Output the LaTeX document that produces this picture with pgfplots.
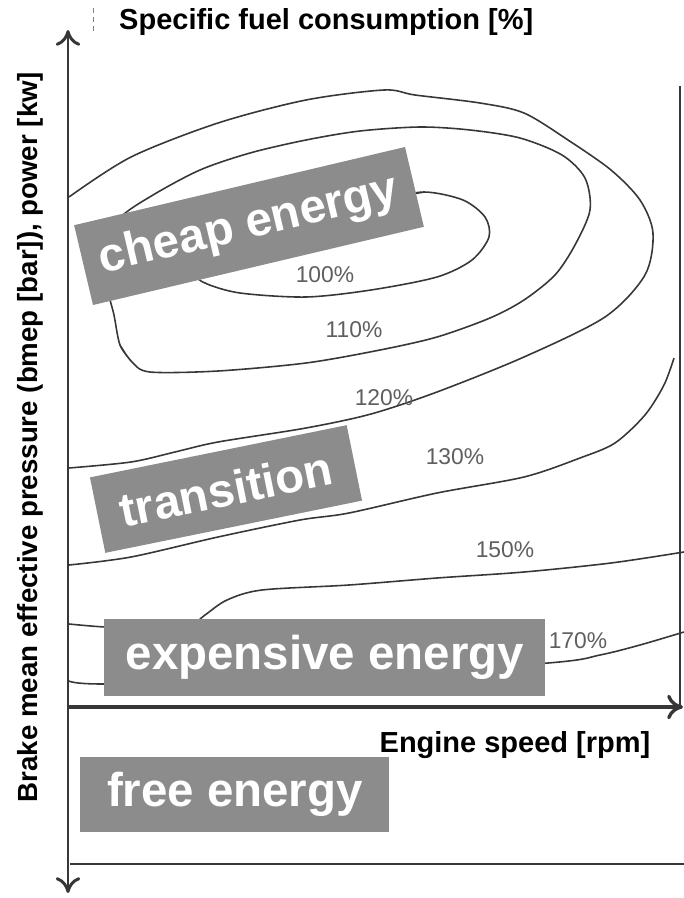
\documentclass[border=0pt]{standalone}
\usepackage{fontspec}
\setmainfont{Liberation Sans}
\usepackage{pgfplots}
\pgfplotsset{compat=1.18}
\usetikzlibrary{arrows.meta}
\definecolor{boxgray}{RGB}{140,140,140}
\definecolor{linegray}{RGB}{55,55,55}
\definecolor{labgray}{RGB}{95,95,95}
\pgfplotsset{iso/.style={no marks, smooth, line width=0.9pt, color=linegray}}
\begin{document}
\begin{tikzpicture}[
  box/.style={fill=boxgray, text=white, inner sep=0pt, anchor=center,
              font=\fontsize{27}{30}\selectfont\bfseries},
  pct/.style={text=labgray, font=\fontsize{13}{15}\selectfont}]
\begin{axis}[
  scale only axis, width=13.68cm, height=17.96cm,
  xmin=0, xmax=684, ymin=0, ymax=898, y dir=reverse,
  hide axis, clip=false]

% 120% (outer loop)
\addplot[iso] coordinates {
  (69,197) (131,157) (218,123) (306,100) (384,90) (415,95) (480,103)
  (524,113) (568,140) (611,170) (640,200) (653,233) (645,275) (605,317)
  (524,357) (437,392) (371,414) (306,428) (218,442) (175,452) (131,462) (69,468)};
% 110% loop
\addplot[iso] coordinates {
  (120,345) (132,362) (150,372) (218,371) (306,363) (380,350) (437,337)
  (490,318) (524,300) (555,275) (575,245) (590,210) (585,178) (562,155)
  (520,138) (470,130) (420,127) (360,131) (306,140) (250,153) (200,170)
  (153,195) (120,218) (105,250) (108,290) (114,315) (120,345) (132,362)};
% 100% loop
\addplot[iso] coordinates {
  (380,200) (424,192) (463,200) (485,217) (489,237) (472,260) (437,277)
  (371,290) (306,297) (240,293) (205,283) (199,273) (230,240) (300,215)
  (380,200) (424,192)};
% 130%
\addplot[iso] coordinates {
  (69,565) (131,557) (218,537) (300,520) (349,513) (437,493) (524,477)
  (580,458) (615,443) (645,415) (664,385) (674,358)};
% 150%
\addplot[iso] coordinates {
  (69,624) (105,627) (150,628) (190,625) (205,615) (227,600) (262,590)
  (349,585) (437,578) (524,572) (611,563) (684,552)};
% 170%
\addplot[iso] coordinates {
  (69,681) (105,684) (300,680) (548,663) (600,655) (640,645) (684,632)};

% frame and axes
\addplot[no marks, line width=1.1pt, color=linegray] coordinates {(680,86) (680,705)};
\addplot[no marks, line width=1.1pt, color=linegray] coordinates {(70,864) (684,864)};
\addplot[no marks, line width=1.7pt, color=linegray,
  {To[length=9pt,width=14pt]}-{To[length=9pt,width=14pt]}]
  coordinates {(68,893) (68,30)};
\addplot[no marks, line width=1.9pt, color=linegray, -{To[length=9pt,width=14pt]}]
  coordinates {(68,707) (683,707)};
\addplot[no marks, densely dashed, thin, gray] coordinates {(93,8) (93,32)};

% labels of the contours
\node[pct] at (axis cs:325,275) {100\%};
\node[pct] at (axis cs:354,330) {110\%};
\node[pct] at (axis cs:384,398) {120\%};
\node[pct] at (axis cs:455,457) {130\%};
\node[pct] at (axis cs:505,550) {150\%};
\node[pct] at (axis cs:578,641) {170\%};

% zones
\node[box, rotate=13.3, minimum width=6.8cm, minimum height=1.64cm]
  at (axis cs:249,226) {cheap energy};
\node[box, rotate=11.5, minimum width=5.24cm, minimum height=1.54cm]
  at (axis cs:226,489) {transition};
\node[box, minimum width=8.82cm, minimum height=1.54cm]
  at (axis cs:325,657) {expensive energy};
\node[box, minimum width=6.18cm, minimum height=1.5cm]
  at (axis cs:235,794) {free energy};

% titles
\node[anchor=west, font=\bfseries\fontsize{16.5}{18}\selectfont]
  at (axis cs:113,22) {Specific fuel consumption [\%]};
\node[font=\bfseries\fontsize{16.5}{18}\selectfont]
  at (axis cs:515,745) {Engine speed [rpm]};
\node[rotate=90, font=\bfseries\fontsize{15.75}{17}\selectfont]
  at (axis cs:30,437) {Brake mean effective pressure (bmep [bar]), power [kw]};
\end{axis}
\pgfresetboundingbox
\path (current axis.south west) rectangle (current axis.north east);
\end{tikzpicture}
\end{document}
